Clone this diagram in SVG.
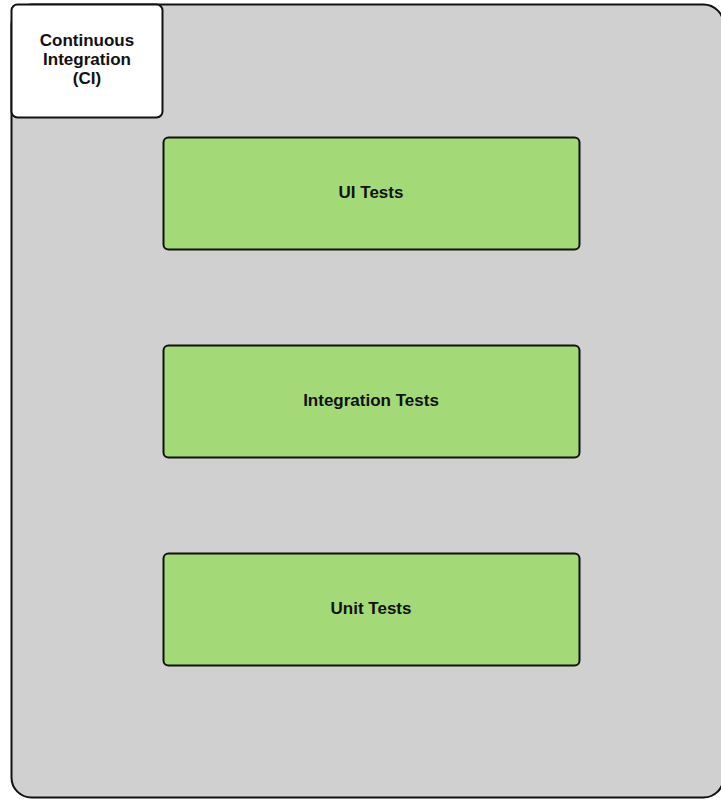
<svg xmlns="http://www.w3.org/2000/svg" width="721" height="799" viewBox="0 0 721 799">
<style>
.lbl{font-family:"Liberation Sans",Arial,sans-serif;font-weight:bold;font-size:17px;fill:#111;text-anchor:middle}
.test{fill:#a3d977;stroke:#111;stroke-width:2}
</style>
<rect width="721" height="799" fill="#ffffff"/>
<g id="ci-container">
<rect x="11.5" y="4.5" width="712" height="793" rx="20" ry="20" fill="#d0d0d0" stroke="#111" stroke-width="2"/>
</g>
<g id="ci-label">
<rect x="11.5" y="4.5" width="151" height="113" rx="6" ry="6" fill="#ffffff" stroke="#111" stroke-width="2"/>
<text class="lbl" x="87" y="46">Continuous</text>
<text class="lbl" x="87" y="65">Integration</text>
<text class="lbl" x="87" y="84">(CI)</text>
</g>
<g id="ui-tests">
<rect class="test" x="163.5" y="137.5" width="416" height="112" rx="5" ry="5"/>
<text class="lbl" x="371" y="198">UI Tests</text>
</g>
<g id="integration-tests">
<rect class="test" x="163.5" y="345.5" width="416" height="112" rx="5" ry="5"/>
<text class="lbl" x="371" y="406">Integration Tests</text>
</g>
<g id="unit-tests">
<rect class="test" x="163.5" y="553.5" width="416" height="112" rx="5" ry="5"/>
<text class="lbl" x="371" y="614">Unit Tests</text>
</g>
<g id="connectors"></g>
</svg>
